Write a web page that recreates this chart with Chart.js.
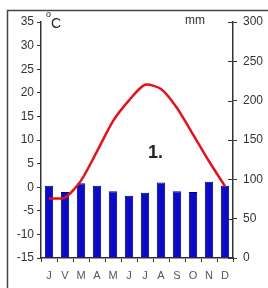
<!DOCTYPE html>
<html>
<head>
<meta charset="utf-8">
<script src="https://cdn.jsdelivr.net/npm/chart.js@4"></script>
<style>
  html, body { margin: 0; padding: 0; background: #fff; }
  #wrap { width: 268px; height: 288px; position: relative; }
</style>
</head>
<body>
<div id="wrap"><canvas id="climate" width="268" height="288"></canvas></div>
<script>
// mjeseci (hrvatski)
const months = ['J', 'V', 'M', 'A', 'M', 'J', 'J', 'A', 'S', 'O', 'N', 'D'];
// temperatura u °C
const temperature = [-2.4, -2.2, 1.4, 7.6, 14.0, 18.4, 21.7, 20.8, 16.8, 11.2, 5.5, 0.2];
// oborina u mm
const precipitation = [92, 84, 95, 92, 85, 79, 83, 96, 85, 84, 97, 92];
const tempTicks = [-15, -10, -5, 0, 5, 10, 15, 20, 25, 30, 35];
const mmTicks = [0, 50, 100, 150, 200, 250, 300];

// okvir, unutarnje crtice desne osi i natpisi (°C, mm, 1.)
const decorations = {
    id: 'decorations',
    afterDraw(chart) {
        const ctx = chart.ctx;
        ctx.save();
        ctx.strokeStyle = '#444';
        ctx.lineWidth = 1.5;
        ctx.beginPath();
        ctx.moveTo(7.5, 288);
        ctx.lineTo(7.5, 10.5);
        ctx.lineTo(268, 10.5);
        ctx.stroke();

        // desna os: crtice prelaze preko osi
        const y1 = chart.scales.y1;
        ctx.strokeStyle = '#333';
        ctx.lineWidth = 1;
        ctx.beginPath();
        mmTicks.forEach(v => {
            const py = Math.round(y1.getPixelForValue(v)) + 0.5;
            ctx.moveTo(y1.left - 5, py);
            ctx.lineTo(y1.left, py);
        });
        ctx.stroke();

        ctx.fillStyle = '#222';
        ctx.textBaseline = 'alphabetic';
        ctx.font = '9px "Liberation Sans", Arial, sans-serif';
        ctx.fillText('o', 46, 17);
        ctx.font = '14px "Liberation Sans", Arial, sans-serif';
        ctx.fillText('C', 51, 28);
        ctx.fillStyle = '#333';
        ctx.font = '12px "Liberation Sans", Arial, sans-serif';
        ctx.fillText('mm', 185, 24);
        ctx.fillStyle = '#222';
        ctx.font = 'bold 18px "Liberation Sans", Arial, sans-serif';
        ctx.fillText('1.', 148, 158);
        ctx.restore();
    }
};

new Chart(document.getElementById('climate').getContext('2d'), {
    type: 'bar',
    data: {
        labels: months,
        datasets: [
            {
                type: 'line',
                label: 'Temperatura',
                data: temperature,
                yAxisID: 'y',
                borderColor: '#e3121b',
                borderWidth: 2.5,
                pointRadius: 0,
                tension: 0.25,
                order: 0
            },
            {
                label: 'Oborina',
                data: precipitation,
                yAxisID: 'y1',
                backgroundColor: '#0c0cc8',
                borderColor: '#00007a',
                borderWidth: 1,
                barPercentage: 0.52,
                categoryPercentage: 1,
                order: 1
            }
        ]
    },
    options: {
        responsive: false,
        animation: false,
        layout: { padding: { top: 22, left: 0, right: 0, bottom: 0 } },
        plugins: {
            legend: { display: false },
            tooltip: { enabled: false }
        },
        scales: {
            x: {
                offset: true,
                grid: { offset: true, drawOnChartArea: false, tickLength: 4, color: '#333', lineWidth: 1 },
                border: { color: '#333', width: 1.5 },
                ticks: { color: '#555', padding: 7, font: { size: 11, family: '"Liberation Sans", Arial, sans-serif' } },
                afterFit(scale) { scale.height = 30; }
            },
            y: {
                position: 'left',
                min: -15,
                max: 35,
                afterBuildTicks(scale) { scale.ticks = tempTicks.map(v => ({ value: v })); },
                grid: { drawOnChartArea: false, tickLength: 4, color: '#333' },
                border: { color: '#333', width: 1.5 },
                ticks: { color: '#333', padding: 3, font: { size: 12, family: '"Liberation Sans", Arial, sans-serif' } },
                afterFit(scale) { scale.width = 41; }
            },
            y1: {
                position: 'right',
                min: 0,
                max: 300,
                afterBuildTicks(scale) { scale.ticks = mmTicks.map(v => ({ value: v })); },
                grid: { drawOnChartArea: false, tickLength: 4, color: '#333' },
                border: { color: '#333', width: 1.5 },
                ticks: { color: '#333', padding: 6, font: { size: 12, family: '"Liberation Sans", Arial, sans-serif' } },
                afterFit(scale) { scale.width = 35; }
            }
        }
    },
    plugins: [decorations]
});
</script>
</body>
</html>
